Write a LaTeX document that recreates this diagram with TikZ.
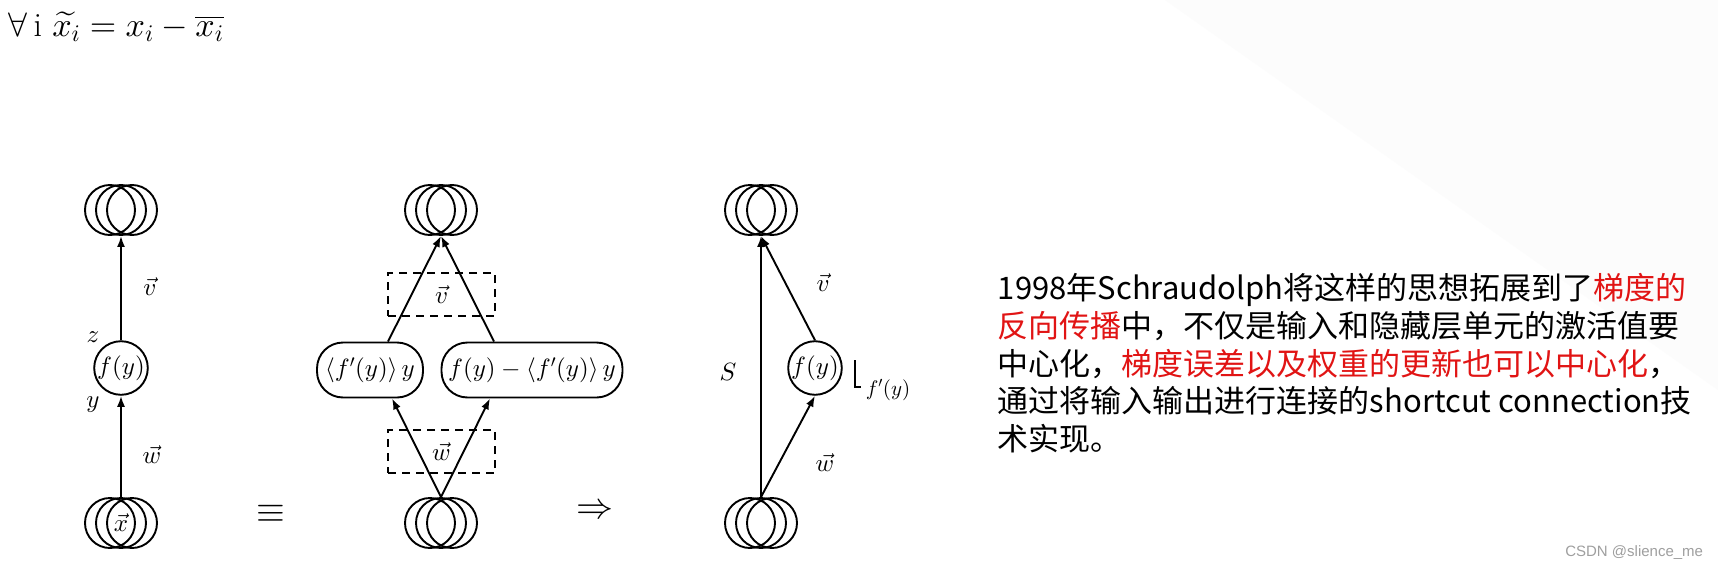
\documentclass[tikz,border=0pt]{standalone}
\usepackage{fontspec}
\usepackage{amsmath}
\usetikzlibrary{arrows.meta}
\DeclareFontShape{OT1}{cmr}{m}{n}{<->cmr10}{}
\DeclareFontShape{OML}{cmm}{m}{it}{<->cmmi10}{}
\DeclareFontShape{OMS}{cmsy}{m}{n}{<->cmsy10}{}
\DeclareFontShape{OMX}{cmex}{m}{n}{<->cmex10}{}
\newfontfamily\cjk{Noto Sans CJK SC}
\newfontfamily\wmfont{Liberation Sans}
\definecolor{hl}{RGB}{225,20,20}
\newcommand\neuron[3]{%
  \node[nrn] (#1) at (#2) {#3};
  \draw ([xshift=-11pt]#1.center) circle[radius=25pt];
  \draw ([xshift=11pt]#1.center) circle[radius=25pt];
}
\begin{document}
\begin{tikzpicture}[x=1pt,y=-1pt,
  line width=1.9pt,
  every node/.style={font=\fontsize{25}{30}\selectfont},
  nrn/.style={circle, draw, minimum size=50pt, inner sep=0pt},
  unit/.style={circle, draw, minimum size=50pt, inner sep=0pt},
  wide/.style={draw, rounded corners=26pt, minimum height=55pt, inner sep=0pt},
  dbox/.style={draw, dash pattern=on 8pt off 6pt, minimum width=107pt, minimum height=43pt, inner sep=0pt},
  arr/.style={-{Latex[length=11pt,width=8pt]}},
  big/.style={font=\fontsize{37}{40}\selectfont},
  cjktext/.style={anchor=base west, inner sep=0pt, font=\cjk\fontsize{31}{36}\selectfont},
]
\useasboundingbox (0,0) rectangle (1718,570);
\fill[white] (0,0) rectangle (1718,570);
\fill[gray!2] (1165,0) -- (1718,0) -- (1718,390) -- cycle;

% formula
\node[anchor=west, inner sep=0pt, font=\fontsize{34}{38}\selectfont] (eqn) at (8,27)
  {$\forall\,\mathrm{i}\ \widetilde{x_i} = x_i - \overline{x_i}$};

% diagram 1
\neuron{a1}{121,210}{}
\neuron{a0}{121,523}{$\vec{x}$}
\node[unit] (f1) at (121,368) {$f(y)$};
\draw[arr] (a0) -- (f1);
\draw[arr] (f1) -- (a1);
\node (lz) at (93,337) {$z$};
\node (ly) at (93,405) {$y$};
\node (lv1) at (150,287) {$\vec{v}$};
\node (lw1) at (152,455) {$\vec{w}$};

\node[big] (equiv) at (271,514) {$\equiv$};

% diagram 2
\neuron{b1}{441,210}{}
\neuron{b0}{441,523}{}
\node[dbox] (vb) at (441.5,294.5) {$\vec{v}$};
\node[dbox] (wb) at (441.5,451.5) {$\vec{w}$};
\node[wide, minimum width=106pt] (l) at (370,370) {$\langle f'(y)\rangle\, y$};
\node[wide, minimum width=181pt] (r) at (532,370) {$f(y)-\langle f'(y)\rangle\, y$};
\draw[arr] ([xshift=18pt]l.north) -- (b1.south);
\draw[arr] ([xshift=-38pt]r.north) -- (b1.south);
\draw[arr] (b0.north) -- ([xshift=22pt]l.south);
\draw[arr] (b0.north) -- ([xshift=-42pt]r.south);

\node[big] (impl) at (595,512) {$\Rightarrow$};

% diagram 3
\neuron{c1}{761,210}{}
\neuron{c0}{761,523}{}
\node[unit] (f3) at (815,368) {$f(y)$};
\draw[arr] (c0) -- (c1);
\draw[arr] (f3.north) -- (c1.south);
\draw[arr] (c0.north) -- (f3.south);
\node (lS) at (728,372) {$S$};
\node (lv3) at (823,283) {$\vec{v}$};
\node (lw3) at (825,463) {$\vec{w}$};
\draw[line width=1.5pt] (855,360) |- (861,387);
\node[font=\fontsize{21}{24}\selectfont] (fp) at (888,390) {$f'(y)$};

% text
\node[cjktext] (t1) at (997,299) {1998年Schraudolph将这样的思想拓展到了\textcolor{hl}{梯度的}};
\node[cjktext] (t2) at (997,337) {\textcolor{hl}{反向传播}中，不仅是输入和隐藏层单元的激活值要};
\node[cjktext] (t3) at (997,375) {中心化，\textcolor{hl}{梯度误差以及权重的更新也可以中心化}，};
\node[cjktext] (t4) at (997,412.5) {通过将输入输出进行连接的shortcut connection技};
\node[cjktext] (t5) at (997,450) {术实现。};

\node[anchor=east, inner sep=0pt, font=\wmfont\fontsize{15}{18}\selectfont, text=gray!75] (wm) at (1704,553) {CSDN @slience\_me};
\end{tikzpicture}
\end{document}
